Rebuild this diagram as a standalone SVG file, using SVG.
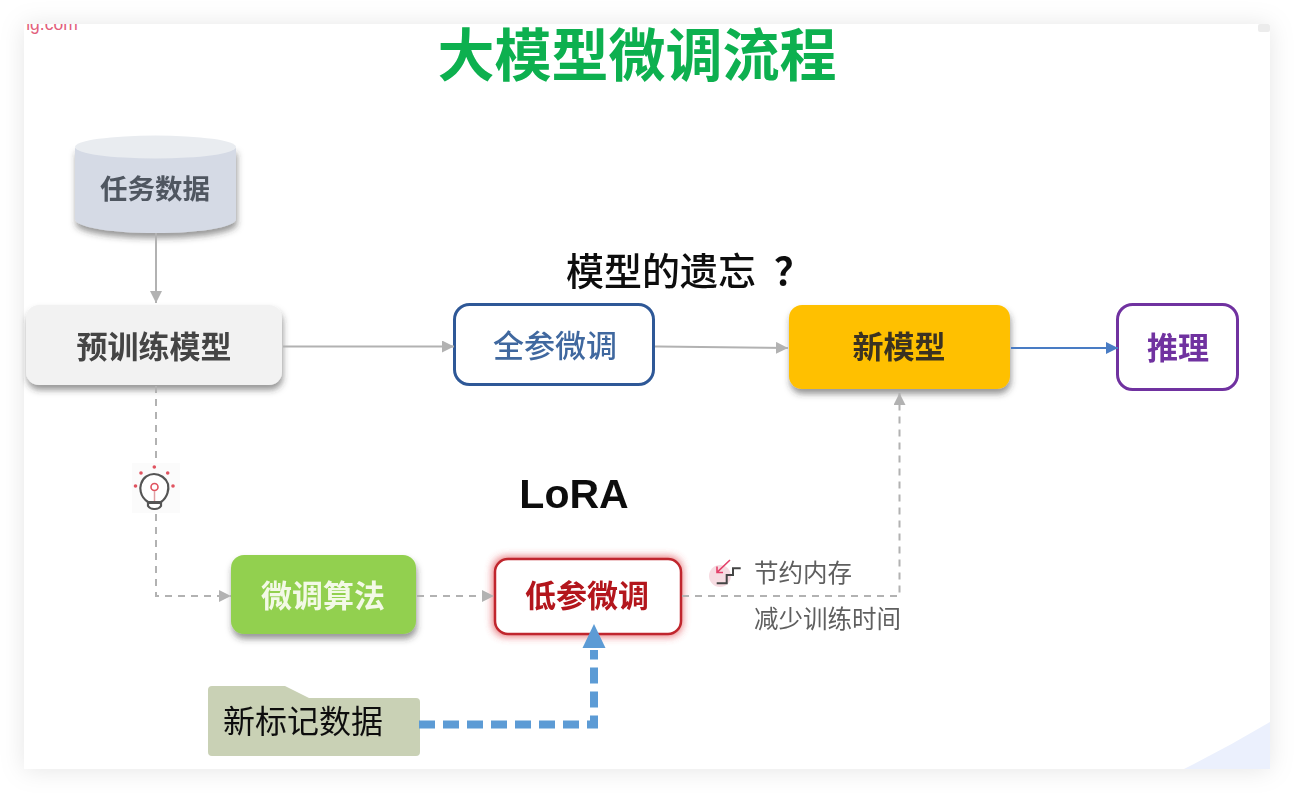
<svg xmlns="http://www.w3.org/2000/svg" width="1294" height="793" viewBox="0 0 1294 793">
<style>
text{font-family:"Liberation Sans","Noto Sans CJK SC",sans-serif;text-anchor:middle}
.lb{font-family:"Noto Sans CJK SC",sans-serif;font-weight:700;font-size:31px}
.sm{font-family:"Noto Sans CJK SC",sans-serif;font-size:24.500px;fill:#5f5f5f;text-anchor:start}
.g{fill:none;stroke:#b2b2b2;stroke-width:2}
.d{stroke-dasharray:7 6}
</style>
<defs>
<filter id="page" x="-5%" y="-6%" width="110%" height="112%"><feDropShadow dx="0" dy="1" stdDeviation="12" flood-color="#000" flood-opacity=".1"/></filter>
<filter id="sh" x="-15%" y="-25%" width="130%" height="160%"><feDropShadow dx="1" dy="5" stdDeviation="3" flood-color="#333" flood-opacity=".5"/></filter>
<filter id="glow" x="-15%" y="-25%" width="130%" height="150%"><feGaussianBlur stdDeviation="4"/></filter>
<filter id="soft" filterUnits="userSpaceOnUse" x="0" y="0" width="1294" height="793"><feGaussianBlur stdDeviation=".45"/></filter>
<marker id="ag" markerUnits="userSpaceOnUse" markerWidth="14" markerHeight="14" refX="12" refY="6" orient="auto"><path d="M0 0L12 6L0 12Z" fill="#b2b2b2"/></marker>
<marker id="ab" markerUnits="userSpaceOnUse" markerWidth="14" markerHeight="14" refX="12" refY="6" orient="auto"><path d="M0 0L12 6L0 12Z" fill="#4a7cc4"/></marker>
<clipPath id="pc"><rect x="24" y="24" width="1246" height="745"/></clipPath>
</defs>
<rect width="1294" height="793" fill="#fff"/>
<g id="slide">
<rect x="24" y="24" width="1246" height="745" fill="#fff" filter="url(#page)"/>
<path d="M1184 769Q1228 747 1270 722V769Z" fill="#ebf0fd"/>
<rect x="1258" y="24" width="12" height="8" rx="2" fill="#ececec"/>
<g clip-path="url(#pc)"><text x="52" y="29.500" font-size="17.500" fill="#e2607c">ig.com</text></g>
</g>
<g id="content" filter="url(#soft)">
<text id="title" x="637" y="76" font-size="57" font-weight="700" fill="#0bb04f" style="font-family:'Noto Sans CJK SC',sans-serif">大模型微调流程</text>
<text id="q1" x="566" y="285" font-size="38" font-weight="500" fill="#111" style="font-family:'Noto Sans CJK SC',sans-serif;text-anchor:start">模型的遗忘<tspan dx="18" font-weight="700">？</tspan></text>
<text id="q2" x="574" y="508" font-size="41" font-weight="700" fill="#111">LoRA</text>
<g id="n-data">
<path d="M75 148V219C75 227 110 233 155.500 233S236 227 236 219V148Z" fill="#d5dae5" filter="url(#sh)"/>
<ellipse cx="155.500" cy="147" rx="80.500" ry="11.500" fill="#e9ecf0"/>
<text x="155" y="199" font-size="27.500" font-weight="700" fill="#4f5661" style="font-family:'Noto Sans CJK SC',sans-serif">任务数据</text>
</g>
<g id="n-pretrain">
<rect x="26" y="305" width="256" height="80" rx="13" fill="#f2f2f2" filter="url(#sh)"/>
<text class="lb" x="154" y="358" fill="#444">预训练模型</text>
</g>
<g id="n-full">
<rect x="454.500" y="304.500" width="199" height="80" rx="15" fill="#fff" stroke="#2f5897" stroke-width="3"/>
<text class="lb" x="555" y="357" fill="#3f689f" style="font-weight:500">全参微调</text>
</g>
<g id="n-new">
<rect x="789" y="305" width="221" height="84" rx="13" fill="#ffc000" filter="url(#sh)"/>
<text class="lb" x="899" y="358" fill="#3a3320">新模型</text>
</g>
<g id="n-infer">
<rect x="1117.500" y="304.500" width="120" height="85" rx="15" fill="#fff" stroke="#7030a0" stroke-width="3"/>
<text class="lb" x="1178" y="359" fill="#7030a0">推理</text>
</g>
<g id="n-bulb">
<rect x="132" y="463" width="48" height="50" fill="#fbfbfb"/>
<g fill="#e0525f"><circle cx="135.500" cy="486" r="1.800"/><circle cx="141" cy="473" r="1.800"/><circle cx="154.300" cy="467" r="1.800"/><circle cx="167.700" cy="473" r="1.800"/><circle cx="173" cy="486" r="1.800"/></g>
<path d="M148 502C139 496 140 487 141 484C143 477 149 474 154 474C160 474 166 478 168 484C169 489 168 497 161 502Z" fill="#fff" stroke="#555" stroke-width="2.200"/>
<path d="M148 503H161V506Q159 509 155 509H154Q150 509 148 506Z" fill="#fff" stroke="#555" stroke-width="2.200"/>
<circle cx="154.500" cy="487" r="3.500" fill="none" stroke="#e0525f" stroke-width="1.600"/>
<path d="M154.500 491V501" stroke="#e0a0a5" stroke-width="1.500"/>
</g>
<g id="n-algo">
<rect x="231" y="555" width="185" height="79" rx="13" fill="#92d050" filter="url(#sh)"/>
<text class="lb" x="323" y="607" fill="#f3f9e6">微调算法</text>
</g>
<g id="n-low">
<rect x="493" y="557" width="189" height="79" rx="13" fill="#e04a50" opacity=".85" filter="url(#glow)"/>
<rect x="495" y="559" width="186" height="75" rx="13" fill="#fff" stroke="#c0272d" stroke-width="2.500"/>
<text class="lb" x="587" y="607" fill="#b3151b">低参微调</text>
</g>
<g id="n-save">
<circle cx="720" cy="576" r="11" fill="#f7dce2"/>
<path d="M716.700 583.300H726.700V575H733V568.300H740.700" fill="none" stroke="#444" stroke-width="2"/>
<path d="M730 560L717 572.300M717 566.500V572.500H723" fill="none" stroke="#e4416a" stroke-width="1.600"/>
<text class="sm" x="754" y="582">节约内存</text>
<text class="sm" x="754" y="628">减少训练时间</text>
</g>
<g id="n-label">
<path d="M212 686H285L309 698H416Q420 698 420 702V752Q420 756 416 756H212Q208 756 208 752V690Q208 686 212 686Z" fill="#c9d1b5"/>
<text x="303" y="733" font-size="32" fill="#111" style="font-family:'Noto Sans CJK SC',sans-serif">新标记数据</text>
</g>
<g id="connectors">
<path class="g" d="M156 233V303" marker-end="url(#ag)"/>
<path class="g" d="M283 346.500H454" marker-end="url(#ag)"/>
<path class="g" d="M655 346.500L788 348" marker-end="url(#ag)"/>
<path d="M1011 348H1118" fill="none" stroke="#4a7cc4" stroke-width="2" marker-end="url(#ab)"/>
<path class="g d" d="M156 386V462M156 514V596H231" marker-end="url(#ag)"/>
<path class="g d" d="M417 596H494" marker-end="url(#ag)"/>
<path class="g d" d="M682 596H899.500V393" marker-end="url(#ag)"/>
<path d="M419 724.500H594V650" fill="none" stroke="#5b9bd5" stroke-width="8" stroke-dasharray="16 8"/>
<path d="M582.500 648L594 624L605.500 648Z" fill="#5b9bd5"/>
</g>
</g>
</svg>
